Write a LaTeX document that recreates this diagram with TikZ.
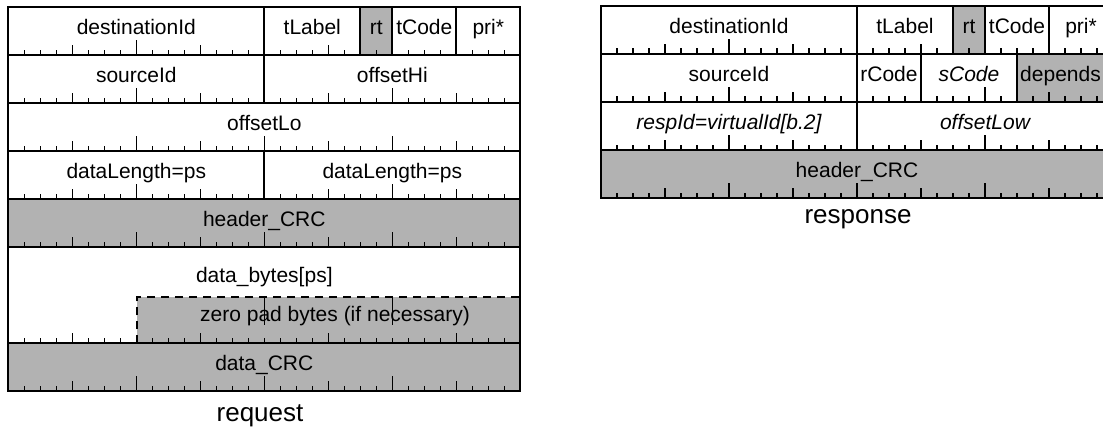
\documentclass[tikz,border=0pt]{standalone}
\usepackage{fontspec}
\setmainfont{Liberation Sans}
\newcommand\bitticks[3]{%
  \foreach \b in {#3} {%
    \pgfmathsetmacro\tkh{mod(\b,8)==0 ? 15 : (mod(\b,4)==0 ? 10 : 5.5)}%
    \draw[tickline] ({#1+16*\b},#2) -- ++(0,-\tkh);
  }}
\tikzset{
  frame/.style={line width=2pt, line cap=rect},
  tickline/.style={line width=1.5pt},
  shaded/.style={fill=black!30},
  field/.style={anchor=base, inner sep=0pt, font=\fontsize{21}{25}\selectfont},
  caption/.style={anchor=base, inner sep=0pt, font=\fontsize{26}{30}\selectfont},
  padedge/.style={line width=2pt, dash pattern=on 8pt off 6pt},
}
\begin{document}
\begin{tikzpicture}[x=1pt,y=-1pt]
\useasboundingbox (0,0) rectangle (1103,429);
\clip (0,0) rectangle (1103,429);
\fill[white] (0,0) rectangle (1103,429);

% ---------------- request ----------------
\fill[shaded] (360.3,7.3) rectangle (392.3,55.3);
\fill[shaded] (8.3,199.3) rectangle (520.3,247.3);
\fill[shaded] (137.3,297) rectangle (520.3,343.3);
\fill[shaded] (8.3,343.3) rectangle (520.3,391.3);

\node[field] (reqDest)   at (136.3,34.8) {destinationId};
\node[field] (reqTLabel) at (312.3,34.8) {tLabel};
\node[field] (reqRt)     at (376.3,34.8) {rt};
\node[field] (reqTCode)  at (424.3,34.8) {tCode};
\node[field] (reqPri)    at (488.3,34.8) {pri*};
\node[field] (reqSrc)    at (136.3,82.8) {sourceId};
\node[field] (reqOffHi)  at (392.3,82.8) {offsetHi};
\node[field] (reqOffLo)  at (264.3,130.8) {offsetLo};
\node[field] (reqLenA)   at (136.3,178.8) {dataLength=ps};
\node[field] (reqLenB)   at (392.3,178.8) {dataLength=ps};
\node[field] (reqHCRC)   at (264.3,226.8) {header\_CRC};
\node[field] (reqData)   at (264.3,282.5) {data\_bytes[ps]};
\node[field] (reqPad)    at (335,321) {zero pad bytes (if necessary)};
\node[field] (reqDCRC)   at (264.3,370.8) {data\_CRC};
\node[caption] (reqCap)  at (260,421) {request};

\draw[frame] (8.3,7.3) rectangle (520.3,391.3);
\foreach \yy in {55.3,103.3,151.3,199.3,247.3,343.3}
  \draw[frame] (8.3,\yy) -- (520.3,\yy);
\foreach \xx in {264.3,360.3,392.3,456.3}
  \draw[frame] (\xx,7.3) -- (\xx,55.3);
\draw[frame] (264.3,55.3) -- (264.3,103.3);
\draw[frame] (264.3,151.3) -- (264.3,199.3);
\draw[padedge] (137.3,343.3) -- (137.3,297) -- (520.3,297);

\bitticks{8.3}{55.3}{1,2,3,4,5,6,7,8,9,10,11,12,13,14,15,17,18,19,20,21,23,25,26,27,29,30,31}
\bitticks{8.3}{103.3}{1,2,3,4,5,6,7,8,9,10,11,12,13,14,15,17,18,19,20,21,22,23,24,25,26,27,28,29,30,31}
\bitticks{8.3}{151.3}{1,2,3,4,5,6,7,8,9,10,11,12,13,14,15,16,17,18,19,20,21,22,23,24,25,26,27,28,29,30,31}
\bitticks{8.3}{199.3}{1,2,3,4,5,6,7,8,9,10,11,12,13,14,15,17,18,19,20,21,22,23,24,25,26,27,28,29,30,31}
\bitticks{8.3}{247.3}{1,2,3,4,5,6,7,8,9,10,11,12,13,14,15,16,17,18,19,20,21,22,23,24,25,26,27,28,29,30,31}
\bitticks{8.3}{343.3}{1,2,3,4,5,6,7,9,10,11,12,13,14,15,17,18,19,20,21,22,23,25,26,27,28,29,30,31}
\foreach \xx in {264.3,392.3} {
  \draw[tickline] (\xx,343.3) -- ++(0,-5.5);
  \draw[tickline] (\xx,297) -- (\xx,325);
}
\bitticks{8.3}{391.3}{1,2,3,4,5,6,7,8,9,10,11,12,13,14,15,16,17,18,19,20,21,22,23,24,25,26,27,28,29,30,31}

% ---------------- response ----------------
\fill[shaded] (953,5.5) rectangle (985,53.7);
\fill[shaded] (1017,53.7) rectangle (1113,101.9);
\fill[shaded] (601,150.1) rectangle (1113,198.3);

\node[field] (rspDest)   at (729,33) {destinationId};
\node[field] (rspTLabel) at (905,33) {tLabel};
\node[field] (rspRt)     at (969,33) {rt};
\node[field] (rspTCode)  at (1017,33) {tCode};
\node[field] (rspPri)    at (1081,33) {pri*};
\node[field] (rspSrc)    at (729,81.2) {sourceId};
\node[field] (rspRCode)  at (889,81.2) {rCode};
\node[field] (rspSCode)  at (969,81.2) {\itshape sCode};
\node[field] (rspDep)    at (1060.5,81.2) {depends};
\node[field] (rspResp)   at (729,129.4) {\itshape respId=virtualId[b.2]};
\node[field] (rspOffLow) at (985,129.4) {\itshape offsetLow};
\node[field] (rspHCRC)   at (857,177.6) {header\_CRC};
\node[caption] (rspCap)  at (858,223) {response};

\draw[frame] (601,5.5) rectangle (1113,198.3);
\foreach \yy in {53.7,101.9,150.1}
  \draw[frame] (601,\yy) -- (1113,\yy);
\foreach \xx in {857,953,985,1049}
  \draw[frame] (\xx,5.5) -- (\xx,53.7);
\foreach \xx in {857,921,1017}
  \draw[frame] (\xx,53.7) -- (\xx,101.9);
\draw[frame] (857,101.9) -- (857,150.1);

\bitticks{601}{53.7}{1,2,3,4,5,6,7,8,9,10,11,12,13,14,15,17,18,19,20,21,23,25,26,27,29,30,31}
\bitticks{601}{101.9}{1,2,3,4,5,6,7,8,9,10,11,12,13,14,15,17,18,19,21,22,23,24,25,27,28,29,30,31}
\bitticks{601}{150.1}{1,2,3,4,5,6,7,8,9,10,11,12,13,14,15,17,18,19,20,21,22,23,24,25,26,27,28,29,30,31}
\bitticks{601}{198.3}{1,2,3,4,5,6,7,8,9,10,11,12,13,14,15,16,17,18,19,20,21,22,23,24,25,26,27,28,29,30,31}
\end{tikzpicture}
\end{document}
